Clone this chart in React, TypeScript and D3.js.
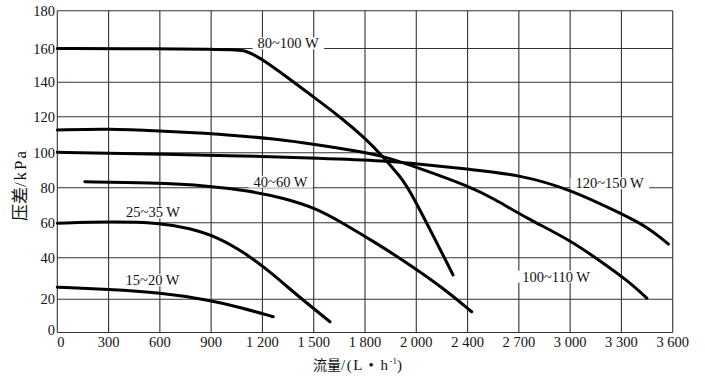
import React, { useEffect, useRef } from "react";
import * as d3 from "d3";

// ---- data ----
const xTicks = [0, 300, 600, 900, 1200, 1500, 1800, 2000, 2400, 2700, 3000, 3300, 3600];
const xTickLabels = ["0", "300", "600", "900", "1 200", "1 500", "1 800", "2 000", "2 400", "2 700", "3 000", "3 300", "3 600"];
const yTicks = [0, 20, 40, 60, 80, 100, 120, 140, 160, 180];
const yTickLabels = ["0", "20", "40", "60", "80", "100", "120", "140", "160", "180"];

const flow80_100 = [0, 600, 900, 1060, 1100, 1140, 1205, 1341, 1497, 1653, 1791, 1871, 1937, 1976, 2287];
const dp80_100 = [160, 159.8, 159.5, 159.2, 158.6, 156.8, 153.2, 143.3, 131.6, 120, 108.9, 97.7, 86.3, 78.7, 31.7];

const flow100_110 = [0, 300, 600, 873, 1068, 1244, 1537, 1771, 1871, 2028, 2415, 2551, 2746, 3000, 3195, 3331, 3449];
const dp100_110 = [112.6, 113.4, 112.1, 110.8, 109.3, 108, 104.3, 100.6, 98.1, 91.1, 80.6, 73.9, 62.5, 50.1, 37.3, 29.3, 20.6];

const flow120_150 = [0, 300, 600, 1068, 1537, 1884, 2028, 2415, 2707, 3000, 3293, 3449, 3575];
const dp120_150 = [100.2, 99.7, 99.1, 98.3, 96.8, 95.3, 93.4, 90.5, 87.3, 79.1, 65.4, 57.8, 47.8];

const flow40_60 = [161, 541, 893, 1127, 1322, 1517, 1673, 1846, 1976, 2211, 2424];
const dp40_60 = [83.4, 82.8, 81.1, 78.1, 74.2, 68.2, 59.6, 48.2, 36.5, 25.3, 12.5];

const flow25_35 = [0, 300, 600, 776, 932, 1088, 1244, 1400, 1595];
const dp25_35 = [59.7, 60.6, 60, 56.8, 52, 43.4, 33.3, 22.1, 6.5];

const flow15_20 = [0, 300, 600, 900, 1068, 1263];
const dp15_20 = [25.8, 24.8, 23.2, 19.4, 15.2, 9.5];

const seriesNames = ["80~100 W", "100~110 W", "120~150 W", "40~60 W", "25~35 W", "15~20 W"];
const seriesFlows = [flow80_100, flow100_110, flow120_150, flow40_60, flow25_35, flow15_20];
const seriesDps = [dp80_100, dp100_110, dp120_150, dp40_60, dp25_35, dp15_20];
// label anchor (flow, pressure) for each series name
const labelFlow = [1350, 2918, 3231, 1306, 560, 557];
const labelDp = [162.7, 30.9, 82.5, 83.4, 65.9, 29.3];

const xTitleCjk = "流量";
const xTitleUnit = "/(L • h";
const yTitleCjk = "压差";
const yTitleUnit = "/kPa";

export default function App() {
  const ref = useRef<SVGSVGElement | null>(null);

  useEffect(() => {
    const svg = d3.select(ref.current);
    svg.selectAll("*").remove();

    const left = 57.3, right = 672.7;
    const font = "'Liberation Serif', 'Times New Roman', 'Noto Sans CJK SC', serif";
    const x = d3
      .scaleLinear()
      .domain(xTicks)
      .range(xTicks.map((_, i) => left + (i * (right - left)) / (xTicks.length - 1)));
    // scanned grid is slightly irregular: piecewise range from gridline positions
    const y = d3
      .scaleLinear()
      .domain(yTicks)
      .range([332.5, 299.3, 257.7, 222.7, 187.7, 152.7, 116.7, 82.3, 48.5, 10.7]);

    const g = svg.append("g");
    // grid
    g.selectAll("line.vx")
      .data(xTicks)
      .join("line")
      .attr("x1", (d) => x(d))
      .attr("x2", (d) => x(d))
      .attr("y1", y(0))
      .attr("y2", y(180))
      .attr("stroke", "#333")
      .attr("stroke-width", 1.1);
    g.selectAll("line.hy")
      .data(yTicks)
      .join("line")
      .attr("x1", x(0))
      .attr("x2", x(3600))
      .attr("y1", (d) => y(d))
      .attr("y2", (d) => y(d))
      .attr("stroke", "#333")
      .attr("stroke-width", 1.1);

    // tick labels
    const tickSize = 14.5;
    g.selectAll("text.xt")
      .data(xTicks)
      .join("text")
      .attr("x", (d) => x(d))
      .attr("y", 347)
      .attr("text-anchor", (d, i) => (i === 0 ? "start" : "middle"))
      .attr("font-family", font)
      .attr("font-size", tickSize)
      .attr("fill", "#111")
      .text((d, i) => xTickLabels[i]);
    g.selectAll("text.yt")
      .data(yTicks)
      .join("text")
      .attr("x", 55)
      .attr("y", (d) => (d === 0 ? y(d) + 2 : y(d) + 5))
      .attr("text-anchor", "end")
      .attr("font-family", font)
      .attr("font-size", tickSize)
      .attr("fill", "#111")
      .text((d, i) => yTickLabels[i]);

    // labels: measure, draw white backgrounds
    const labelG = svg.append("g");
    const texts = labelG
      .selectAll("text")
      .data(seriesNames)
      .join("text")
      .attr("x", (d, i) => x(labelFlow[i]))
      .attr("y", (d, i) => y(labelDp[i]) + 5)
      .attr("text-anchor", "middle")
      .attr("font-family", font)
      .attr("font-size", 14.5)
      .attr("fill", "#111")
      .text((d) => d);
    const boxes: DOMRect[] = [];
    texts.each(function () {
      boxes.push((this as SVGTextElement).getBBox());
    });
    const bgG = svg.insert("g", () => labelG.node());
    bgG
      .selectAll("rect")
      .data(boxes)
      .join("rect")
      .attr("x", (b) => b.x - 5)
      .attr("y", (b) => b.y + 2)
      .attr("width", (b) => b.width + 10)
      .attr("height", (b) => b.height - 4)
      .attr("fill", "#fff");

    // curves (between backgrounds and label text)
    const line = d3
      .line<[number, number]>()
      .x((d) => x(d[0]))
      .y((d) => y(d[1]))
      .curve(d3.curveBasis);
    const curveG = svg.insert("g", () => labelG.node());
    seriesFlows.forEach((fl, i) => {
      const pts = fl.map((f, j) => [f, seriesDps[i][j]] as [number, number]);
      curveG
        .append("path")
        .attr("d", line(pts))
        .attr("fill", "none")
        .attr("stroke", "#000")
        .attr("stroke-width", 3)
        .attr("stroke-linecap", "round")
        .attr("stroke-linejoin", "round");
    });

    // axis titles
    const xt = svg
      .append("text")
      .attr("x", 313)
      .attr("y", 370)
      .attr("font-family", font)
      .attr("fill", "#111");
    xt.append("tspan").attr("font-size", 14).text(xTitleCjk);
    xt.append("tspan").attr("font-size", 15).attr("letter-spacing", 1.5).text(xTitleUnit);
    xt.append("tspan").attr("dy", -6).attr("font-size", 9).text("-1");
    xt.append("tspan").attr("dy", 6).attr("font-size", 15).text(")");

    const yt = svg
      .append("text")
      .attr("transform", "translate(26,185) rotate(-90)")
      .attr("text-anchor", "middle")
      .attr("font-family", font)
      .attr("fill", "#111");
    yt.append("tspan").attr("font-size", 17).text(yTitleCjk);
    yt.append("tspan").attr("font-size", 17).attr("letter-spacing", 2).text(yTitleUnit);
  }, []);

  return (
    <svg
      ref={ref}
      width={705}
      height={377}
      style={{ position: "absolute", left: 0, top: 0, background: "#fff" }}
    />
  );
}
